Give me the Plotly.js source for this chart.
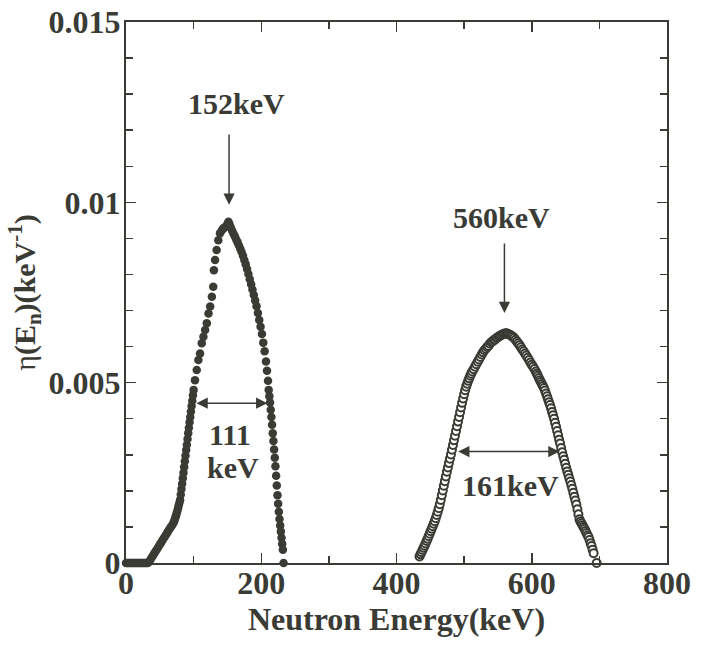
<!DOCTYPE html>
<html>
<head>
<meta charset="utf-8">
<script src="https://cdn.plot.ly/plotly-3.0.1.min.js"></script>
<style>
  html, body { margin: 0; padding: 0; background: #fff; }
  #chart { width: 711px; height: 645px; }
</style>
</head>
<body>
<div id="chart"></div>
<script>
// Neutron energy spectra eta(En) for the two source settings (keV, keV^-1)

// Lower-energy spectrum (peak near 152 keV), filled markers
const lowPeakE = [
  0, 2, 4, 6, 8, 10, 12, 14, 16, 18, 20, 22, 24, 26, 28, 30, 32,
  34, 36, 38, 40, 42, 44, 46, 48, 50, 52, 54, 56, 58, 60, 62, 64, 66, 68,
  70, 71, 72, 73, 74, 75, 76, 77, 78, 79, 80, 81, 82, 83, 84, 85, 86, 87, 88, 89,
  90, 91, 92, 93, 94, 95, 96, 97, 98, 99,
  100, 102, 104.6, 107, 109.5, 112, 114.5, 117, 119.5, 122, 124.5, 127, 129, 130, 131.7,
  134, 136.5, 139, 141.5, 144, 146, 148.5, 150, 151.5,
  153, 155, 157, 159, 161, 163, 165, 167, 169, 171, 173, 175, 177, 179, 181, 183, 185,
  187, 189, 191, 193, 195, 197, 199, 201, 203, 205, 207, 208.5, 210, 211, 212,
  213, 214, 215, 216, 217, 218, 219, 220, 221, 222, 223, 224, 225, 226, 227, 228,
  229, 230, 231, 232, 233
];
const lowPeakEta = [
  0, 0, 0, 0, 0, 0, 0, 0, 0, 0, 0, 0, 0, 0, 0, 0, 0,
  0.00003, 0.00009, 0.00015, 0.00021, 0.00027, 0.00033, 0.00039, 0.00045, 0.00051,
  0.00057, 0.00063, 0.00069, 0.00075, 0.00081, 0.00087, 0.00093, 0.00099, 0.00104,
  0.00110, 0.00115, 0.00120, 0.00126, 0.00132, 0.00138, 0.00145, 0.00152, 0.00160, 0.00167,
  0.00175, 0.00190, 0.00205, 0.00220, 0.00235, 0.00250, 0.00266, 0.00282, 0.00298, 0.00313,
  0.00328, 0.00344, 0.00360, 0.00375, 0.00390, 0.00405, 0.00420, 0.00435, 0.00450, 0.00465,
  0.00480, 0.00507, 0.00535, 0.00563, 0.00581, 0.00609, 0.00627, 0.00646, 0.00665,
  0.00692, 0.00711, 0.00738, 0.00766, 0.00812, 0.00840,
  0.00868, 0.00895, 0.00914, 0.00922, 0.00928, 0.00930, 0.00935, 0.00940, 0.00946,
  0.00940, 0.00930, 0.00921, 0.00913, 0.00905, 0.00897, 0.00889, 0.00880, 0.00871,
  0.00862, 0.00852, 0.00840, 0.00828, 0.00815, 0.00801, 0.00787, 0.00773,
  0.00758, 0.00743, 0.00728, 0.00712, 0.00693, 0.00674, 0.00655, 0.00635, 0.00611,
  0.00587, 0.00559, 0.00533, 0.00505, 0.00480, 0.00462,
  0.00445, 0.00425, 0.00405, 0.00383, 0.00360, 0.00338, 0.00315, 0.00292, 0.00268,
  0.00242, 0.00215, 0.00188, 0.00164, 0.00142, 0.00122, 0.00104,
  0.00087, 0.00070, 0.00053, 0.00037, 0
];

// Higher-energy spectrum (peak near 560 keV), open markers
const highPeakE = [
  434, 435.5, 437, 438.5, 440, 441.5, 443, 444.5, 446, 447.5, 449, 450.5, 452, 453.5,
  455, 456.5, 458, 459.5, 461, 462.5, 464, 465.5, 467, 468.5, 470, 471.5, 473, 474.5,
  476, 477.5, 479, 480.5, 482, 483.5, 485, 486.5, 488, 489.5, 491, 492.5, 494, 495.5,
  497, 498.5, 500, 501.5, 503, 504.5, 506, 507.5, 509, 510.5, 512,
  514, 516, 518, 520, 522, 524, 526, 528, 530, 532, 534, 536, 538, 540, 542, 544, 546,
  548, 550, 552, 554, 556, 558, 560, 562, 564, 566, 568, 570, 572, 574, 576, 578, 580,
  582, 584, 586, 588, 590, 592, 594, 596, 598, 600, 602, 604, 606,
  607.5, 609, 610.5, 612, 613.5, 615, 616.5, 618, 619.5, 621, 622.5, 624, 625.5, 627,
  628.5, 630, 631.5, 633, 634.5, 636, 637.5, 639, 640.5, 642, 643.5, 645, 646.5, 648,
  649.5, 651, 652.5, 654, 655.5, 657, 658.5, 660, 661.5, 663, 664.5, 666, 667.5, 669,
  670.5, 672, 673.5, 675, 676.5, 678, 679.5, 681, 682.5, 684, 685.5, 687, 688.5, 690,
  691.5, 696
];
const highPeakEta = [
  0.00018, 0.00024, 0.00030, 0.00036, 0.00042, 0.00048, 0.00054, 0.00061, 0.00067,
  0.00074, 0.00081, 0.00088, 0.00095, 0.00102, 0.00109, 0.00116, 0.00124, 0.00133,
  0.00142, 0.00152, 0.00163, 0.00175, 0.00188, 0.00201, 0.00214, 0.00227, 0.00240,
  0.00253, 0.00265, 0.00277, 0.00289, 0.00301, 0.00314, 0.00327, 0.00340, 0.00353,
  0.00366, 0.00379, 0.00392, 0.00405, 0.00418, 0.00431, 0.00444, 0.00456, 0.00468,
  0.00479, 0.00489, 0.00497, 0.00505, 0.00512, 0.00519, 0.00525, 0.00531,
  0.00537, 0.00544, 0.00551, 0.00558, 0.00564, 0.00571, 0.00578, 0.00584, 0.00590,
  0.00594, 0.00599, 0.00602, 0.00608, 0.00612, 0.00614, 0.00618, 0.00620, 0.00624,
  0.00626, 0.00629, 0.00631, 0.00633, 0.00635, 0.00636, 0.00637, 0.00636, 0.00634,
  0.00632, 0.00630, 0.00627, 0.00624, 0.00619, 0.00614, 0.00609, 0.00604, 0.00598,
  0.00592, 0.00587, 0.00581, 0.00575, 0.00569, 0.00563, 0.00556, 0.00550, 0.00544,
  0.00538, 0.00531,
  0.00525, 0.00519, 0.00513, 0.00507, 0.00502, 0.00496, 0.00491, 0.00485, 0.00478,
  0.00470, 0.00462, 0.00454, 0.00446, 0.00438, 0.00429, 0.00419, 0.00410, 0.00400,
  0.00389, 0.00378, 0.00366, 0.00354, 0.00342, 0.00331, 0.00319, 0.00307, 0.00296,
  0.00286, 0.00275, 0.00264, 0.00254, 0.00245, 0.00235, 0.00226, 0.00216, 0.00206,
  0.00195, 0.00184, 0.00173, 0.00162, 0.00149, 0.00135, 0.00121, 0.00115, 0.00110,
  0.00105, 0.00100, 0.00095, 0.00089, 0.00083, 0.00077, 0.00072, 0.00064, 0.00055,
  0.00047, 0.00037, 0.00027, 0
];

// Peak positions and widths marked on the plot
const peakLabels = ['152keV', '560keV'];
const peakE = [152.4, 559.6];
const widthLabels = ['111', 'keV', '161keV'];

const ink = '#3b3b36';
const serif = 'Liberation Serif, Times New Roman, serif';

const traces = [
  {
    x: lowPeakE, y: lowPeakEta, type: 'scatter', mode: 'markers', cliponaxis: false,
    marker: { symbol: 'circle', size: 8.5, color: ink, line: { width: 0 } }
  },
  {
    x: highPeakE, y: highPeakEta, type: 'scatter', mode: 'markers', cliponaxis: false,
    marker: { symbol: 'circle', size: 8, color: '#ffffff', line: { width: 2, color: ink } }
  }
];

const textFont = { family: serif, size: 30, color: ink, weight: 'bold' };
const arrowStyle = {
  showarrow: true, arrowhead: 2, arrowsize: 1.5, arrowwidth: 1.5, arrowcolor: ink,
  axref: 'x', ayref: 'y', standoff: 0, startstandoff: 0, text: ''
};

const annotations = [
  { x: 163.6, y: 0.01273, text: peakLabels[0], showarrow: false, font: textFont },
  Object.assign({ x: peakE[0], y: 0.00993, ax: peakE[0], ay: 0.01192 }, arrowStyle),
  { x: 555.5, y: 0.00959, text: peakLabels[1], showarrow: false, font: textFont },
  Object.assign({ x: peakE[1], y: 0.00693, ax: peakE[1], ay: 0.0089 }, arrowStyle),
  Object.assign({ x: 209, y: 0.00443, ax: 102, ay: 0.00443, arrowside: 'end+start',
                  startarrowhead: 2, startarrowsize: 1.5 }, arrowStyle),
  { x: 153.8, y: 0.00355, text: widthLabels[0], showarrow: false, font: textFont },
  { x: 158.3, y: 0.00266, text: widthLabels[1], showarrow: false, font: textFont },
  Object.assign({ x: 641, y: 0.00309, ax: 489, ay: 0.00309, arrowside: 'end+start',
                  startarrowhead: 2, startarrowsize: 1.5 }, arrowStyle),
  { x: 568, y: 0.00216, text: widthLabels[2], showarrow: false, font: textFont }
];

const axisCommon = {
  ticks: 'inside', ticklen: 10, tickwidth: 1.5, tickcolor: ink,
  showline: true, linecolor: ink, linewidth: 2, mirror: 'allticks',
  showgrid: false, zeroline: false,
  tickfont: { family: serif, size: 32, color: ink, weight: 'bold' }
};

const layout = {
  width: 711, height: 645,
  margin: { l: 126, r: 44, t: 22, b: 82 },
  paper_bgcolor: '#ffffff', plot_bgcolor: '#ffffff',
  showlegend: false,
  font: { family: serif, color: ink },
  xaxis: Object.assign({}, axisCommon, {
    range: [0, 800], tick0: 0, dtick: 200, ticklabelstandoff: -9,
    minor: { dtick: 100, ticks: 'inside', ticklen: 7, tickwidth: 1.5, tickcolor: ink },
    title: { text: 'Neutron Energy(keV)', standoff: 6,
             font: { family: serif, size: 32, color: ink, weight: 'bold' } }
  }),
  yaxis: Object.assign({}, axisCommon, {
    range: [0, 0.015], tick0: 0, dtick: 0.005, ticklabelstandoff: -3,
    minor: { dtick: 0.001, ticks: 'inside', ticklen: 7, tickwidth: 1.5, tickcolor: ink },
    title: { text: '<span style="font-weight:normal">η</span>(E<sub>n</sub>)(keV<sup>-1</sup>)',
             standoff: 4,
             font: { family: serif, size: 30, color: ink, weight: 'bold' } }
  }),
  annotations: annotations
};

Plotly.newPlot('chart', traces, layout, { displayModeBar: false, staticPlot: true });
</script>
</body>
</html>
